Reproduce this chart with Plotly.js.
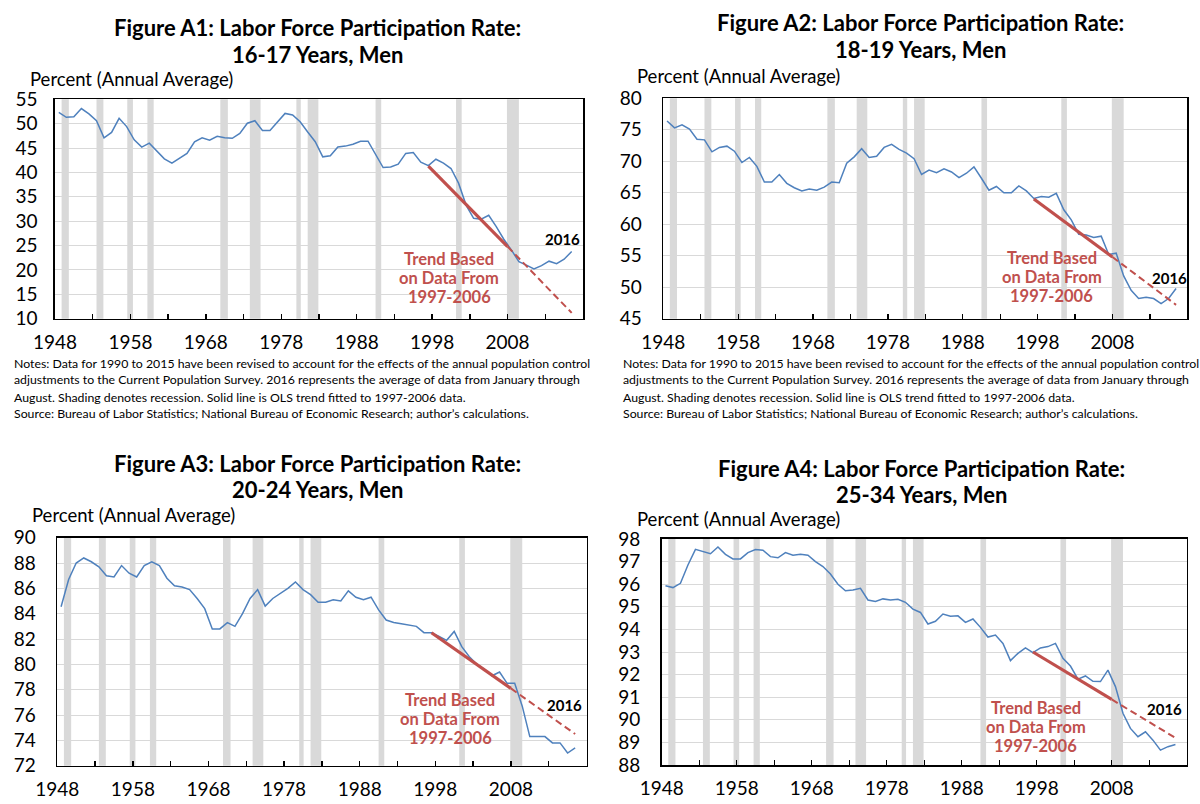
<!DOCTYPE html>
<html><head><meta charset="utf-8">
<script src="https://cdn.plot.ly/plotly-3.0.1.min.js"></script>
<style>html,body{margin:0;padding:0;background:#fff}#chart{width:1200px;height:804px}</style>
</head><body><div id="chart"></div>
<script>
// ---- data ----
const years = [1948,1949,1950,1951,1952,1953,1954,1955,1956,1957,1958,1959,1960,1961,1962,1963,1964,1965,1966,1967,
  1968,1969,1970,1971,1972,1973,1974,1975,1976,1977,1978,1979,1980,1981,1982,1983,1984,1985,1986,1987,
  1988,1989,1990,1991,1992,1993,1994,1995,1996,1997,1998,1999,2000,2001,2002,2003,2004,2005,2006,2007,
  2008,2009,2010,2011,2012,2013,2014,2015,2016];

const lfpr16to17 = [52.3,51.3,51.4,53.1,52.0,50.6,47.1,48.2,51.1,49.4,46.7,45.2,46.0,44.3,42.8,41.9,42.9,43.9,46.3,47.1,
  46.6,47.4,47.1,47.0,48.0,50.1,50.6,48.6,48.6,50.3,52.1,51.8,50.4,48.3,46.3,43.2,43.4,45.2,45.4,45.8,
  46.4,46.4,43.7,41.0,41.1,41.7,43.9,44.1,42.1,41.4,42.7,41.9,40.8,37.8,33.3,30.6,30.4,31.2,28.9,26.3,
  24.1,21.7,21.0,20.2,20.9,21.8,21.3,22.2,23.8];

const lfpr18to19 = [76.4,75.3,75.8,75.1,73.5,73.4,71.5,72.2,72.4,71.6,69.8,70.6,69.2,66.7,66.7,67.9,66.5,65.8,65.3,65.6,
  65.4,65.9,66.7,66.6,69.7,70.7,72.0,70.6,70.8,72.2,72.7,71.9,71.3,70.4,67.9,68.6,68.2,68.8,68.3,67.4,
  68.1,69.1,67.3,65.4,66.0,65.0,65.0,66.1,65.3,64.1,64.4,64.3,64.9,62.3,60.7,58.4,58.3,57.9,58.1,55.2,
  55.4,51.8,49.5,48.2,48.4,48.2,47.4,48.2,49.8];

const lfpr20to24 = [84.55,86.7,88.0,88.4,88.1,87.7,87.0,86.9,87.8,87.2,86.9,87.8,88.1,87.8,86.8,86.2,86.1,85.9,85.2,84.4,
  82.8,82.8,83.3,83.0,84.0,85.2,85.9,84.6,85.2,85.6,86.0,86.5,85.9,85.5,84.9,84.9,85.1,85.0,85.8,85.3,
  85.1,85.3,84.3,83.5,83.3,83.2,83.1,83.0,82.5,82.5,82.2,81.9,82.6,81.4,80.6,80.0,79.6,79.1,79.4,78.5,
  78.5,76.7,74.3,74.3,74.3,73.8,73.8,73.0,73.4];

const lfpr25to34 = [95.93,95.85,96.04,96.85,97.54,97.44,97.35,97.65,97.32,97.12,97.12,97.40,97.53,97.50,97.22,97.17,97.40,97.28,97.32,97.28,
  97.00,96.78,96.45,96.00,95.71,95.74,95.82,95.30,95.24,95.35,95.30,95.33,95.20,94.90,94.75,94.24,94.36,94.68,94.58,94.60,
  94.31,94.46,94.09,93.66,93.75,93.38,92.62,92.94,93.18,92.97,93.18,93.24,93.38,92.72,92.38,91.80,91.94,91.70,91.69,92.20,
  91.47,90.29,89.62,89.25,89.47,89.10,88.66,88.81,88.91];

// OLS trend (1997-2006 fit), solid through 2008, dashed extension to 2016
const trendYears = [1997.5, 2008.0, 2016.5];
const trend16to17 = [41.3, 24.8, 11.2];
const trend18to19 = [64.0, 54.8, 47.2];
const trend20to24 = [82.5, 78.1, 74.5];
const trend25to34 = [93.0, 90.9, 89.2];

// NBER recessions (decimal years)
const recessionStart = [1948.875,1953.5,1957.583,1960.25,1969.917,1973.833,1980.0,1981.5,1990.5,2001.167,2007.917];
const recessionEnd   = [1949.833,1954.417,1958.333,1961.083,1970.917,1975.25,1980.583,1982.917,1991.25,2001.917,2009.5];

const xTickYears = [1948,1958,1968,1978,1988,1998,2008];

const titlesLine1 = ["Figure A1: Labor Force Participation Rate:","Figure A2: Labor Force Participation Rate:",
                     "Figure A3: Labor Force Participation Rate:","Figure A4: Labor Force Participation Rate:"];
const titlesLine2 = ["16-17 Years, Men","18-19 Years, Men","20-24 Years, Men","25-34 Years, Men"];
const trendLabelLines = ["Trend Based","on Data From","1997-2006"];
const notesLines = [
  "Notes: Data for 1990 to 2015 have been revised to account for the effects of the annual population control",
  "adjustments to the Current Population Survey. 2016 represents the average of data from January through",
  "August. Shading denotes recession. Solid line is OLS trend fitted to 1997-2006 data.",
  "Source: Bureau of Labor Statistics; National Bureau of Economic Research; author\u2019s calculations."
];

// ---- layout ----
const W = 1200, H = 804;
const FONT = 'Lato, "Open Sans", "Noto Sans", sans-serif';
const BLUE = '#4f81bd', RED = '#c0504d', SHADE = '#d9d9d9';
const px = v => v / W, py = v => 1 - v / H;

const panels = [
  {series: lfpr16to17, trend: trend16to17, box:[55,583,99.3,318.7], yr:[10,55], dt:5,
   lab2016:[2015.3,26.3], labTrend:[2000.3,18.3], title:[317,27,55], pct:[28,79], stand:12},
  {series: lfpr18to19, trend: trend18to19, box:[663.3,1187.3,98.3,318.7], yr:[45,80], dt:5,
   lab2016:[2015.6,51.4], labTrend:[1999.9,51.6], title:[920,22,50], pct:[635,76], stand:16},
  {series: lfpr20to24, trend: trend20to24, box:[57.3,586.5,537.7,765.7], yr:[72,90], dt:2,
   lab2016:[2015.1,76.8], labTrend:[2000.0,75.7], title:[317,463,490], pct:[30,515], stand:16},
  {series: lfpr25to34, trend: trend25to34, box:[661.7,1186.7,539,765], yr:[88,98], dt:1,
   lab2016:[2015.1,90.48], labTrend:[1997.9,89.7], title:[921,468,495], pct:[635,519], stand:16}
];

const traces = [], shapes = [], annotations = [];
const layout = {
  width: W, height: H, margin:{l:0,r:0,t:0,b:0}, paper_bgcolor:'#fff', plot_bgcolor:'#fff',
  showlegend:false, font:{family:FONT, color:'#000'}
};

panels.forEach((p, i) => {
  const n = i === 0 ? '' : String(i+1);
  const xa = 'x'+n, ya = 'y'+n;
  const [l, r, t, b] = p.box;
  layout['xaxis'+n] = {
    domain:[px(l), px(r)], anchor: ya, range:[1948, 2018], tickmode:'array', tickvals: xTickYears,
    ticktext: xTickYears.map(String), ticks:'inside', ticklen:5, tickcolor:'#000', tickwidth:1.3,
    minor:{dtick:5, tick0:1948, ticks:'inside', ticklen:5, tickcolor:'#000', tickwidth:1.3, showgrid:false},
    showgrid:false, zeroline:false, showline:true, mirror:true, linecolor:'#000', linewidth:1.6,
    tickfont:{family:FONT, size:19, color:'#000'}, ticklabelstandoff:6, fixedrange:true
  };
  layout['yaxis'+n] = {
    domain:[py(b), py(t)], anchor: xa, range:p.yr, dtick:p.dt, tick0:p.yr[0], ticks:'',
    showgrid:true, gridcolor:'#d9d9d9', gridwidth:1, zeroline:false, showline:true, mirror:true,
    linecolor:'#000', linewidth:1.6, tickfont:{family:FONT, size:19, color:'#000'},
    ticklabelstandoff:p.stand, fixedrange:true
  };
  recessionStart.forEach((s, k) => {
    shapes.push({type:'rect', xref:xa, yref:ya+' domain', x0:s, x1:recessionEnd[k], y0:0, y1:1,
      fillcolor:SHADE, line:{width:0}, layer:'below'});
  });
  traces.push({type:'scatter', mode:'lines', x: years.map(y => y + 0.5), y: p.series,
    xaxis:xa, yaxis:ya, line:{color:BLUE, width:1.5}, hoverinfo:'skip'});
  traces.push({type:'scatter', mode:'lines', x: trendYears.slice(0,2), y: p.trend.slice(0,2),
    xaxis:xa, yaxis:ya, line:{color:RED, width:3.2}, hoverinfo:'skip'});
  traces.push({type:'scatter', mode:'lines', x: trendYears.slice(1,3), y: p.trend.slice(1,3),
    xaxis:xa, yaxis:ya, line:{color:RED, width:2, dash:'7px,4px'}, hoverinfo:'skip'});

  annotations.push({xref:xa, yref:ya, x:p.lab2016[0], y:p.lab2016[1], text:'<b>2016</b>', showarrow:false,
    font:{family:FONT, size:15, color:'#000'}});
  trendLabelLines.forEach((line, k) => {
    annotations.push({xref:xa, yref:ya, x:p.labTrend[0], y:p.labTrend[1], yshift:(1 - k) * 19,
      text:'<b>'+line+'</b>', showarrow:false, xanchor:'center', yanchor:'middle',
      font:{family:FONT, size:16.5, color:RED}});
  });
  annotations.push({xref:'paper', yref:'paper', x:px(p.title[0]), y:py(p.title[1]), text:'<b>'+titlesLine1[i]+'</b>',
    showarrow:false, xanchor:'center', yanchor:'middle', font:{family:FONT, size:22, color:'#000'}});
  annotations.push({xref:'paper', yref:'paper', x:px(p.title[0]), y:py(p.title[2]), text:'<b>'+titlesLine2[i]+'</b>',
    showarrow:false, xanchor:'center', yanchor:'middle', font:{family:FONT, size:22, color:'#000'}});
  annotations.push({xref:'paper', yref:'paper', x:px(p.pct[0]), y:py(p.pct[1]), text:'Percent (Annual Average)',
    showarrow:false, xanchor:'left', yanchor:'middle', font:{family:FONT, size:18.5, color:'#000'}});
});

// notes under the top two panels
const notesX = [12, 621], notesY = [363, 380, 397, 413];
notesX.forEach(nx => {
  notesLines.forEach((line, k) => {
    annotations.push({xref:'paper', yref:'paper', x:px(nx), y:py(notesY[k]), text:line, showarrow:false,
      xanchor:'left', yanchor:'middle', font:{family:FONT, size:12.3, color:'#000'}});
  });
});

layout.shapes = shapes;
layout.annotations = annotations;
Plotly.newPlot('chart', traces, layout, {displayModeBar:false, staticPlot:true});
</script></body></html>
